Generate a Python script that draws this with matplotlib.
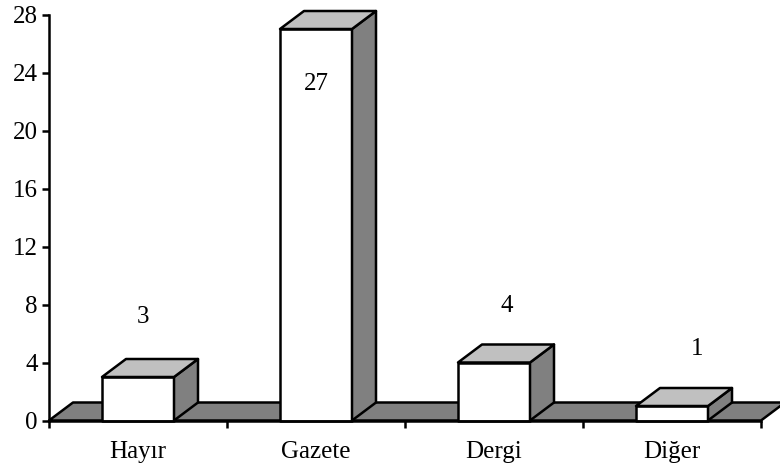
import matplotlib
matplotlib.use('Agg')
import matplotlib.pyplot as plt

categories = ["Hayır", "Gazete", "Dergi", "Diğer"]
values = [3, 27, 4, 1]
y_ticks = [0, 4, 8, 12, 16, 20, 24, 28]

# label offsets from the bar top centre, in pixels
label_dx = [5, 0, 13, 25]
label_dy = [60, -55, 57, 57]

W, H = 780, 468
LEFT, RIGHT, TOP, BOTTOM = 49, 761, 14.5, 420.5
bar_w = 72 / 178
depth_x = 24 / 178
depth_y = 18 / 14.5
lw = 1.8
font_size = 18

plt.rcParams['font.family'] = ['Liberation Serif']
fig = plt.figure(figsize=(W / 100, H / 100), dpi=100)
ax = fig.add_axes([LEFT / W, 1 - BOTTOM / H, (RIGHT - LEFT) / W, (BOTTOM - TOP) / H])


def face(xs, ys, color, z):
    ax.fill(xs, ys, facecolor=color, edgecolor='black', linewidth=lw,
            joinstyle='round', clip_on=False, zorder=z)


# floor
n = len(categories)
face([0, n, n + depth_x, depth_x], [0, 0, depth_y, depth_y], '#808080', 1)

# bars
for i, v in enumerate(values):
    x0 = i + (1 - bar_w) / 2
    x1 = x0 + bar_w
    face([x0, x1, x1, x0], [0, 0, v, v], 'white', 3)
    face([x1, x1 + depth_x, x1 + depth_x, x1], [0, depth_y, v + depth_y, v], '#808080', 3)
    face([x0, x1, x1 + depth_x, x0 + depth_x], [v, v, v + depth_y, v + depth_y], '#C0C0C0', 3)
    ax.annotate(str(v), (i + 0.5, v), xytext=(label_dx[i] * 0.72, label_dy[i] * 0.72),
                textcoords='offset points', ha='center', va='center', fontsize=font_size, zorder=5)

ax.set_xlim(0, n)
ax.set_ylim(0, 28)
ax.set_yticks(y_ticks)
ax.set_xticks(range(n + 1))
ax.set_xticklabels([])
ax.set_xticks([i + 0.5 for i in range(n)], labels=categories, minor=True)
ax.tick_params(axis='x', which='minor', length=0, labelsize=font_size, pad=15)
ax.tick_params(axis='x', which='major', length=5, width=lw)
ax.tick_params(axis='y', length=5, width=lw, labelsize=font_size, pad=3)
ax.spines['top'].set_visible(False)
ax.spines['right'].set_visible(False)
ax.spines['left'].set_linewidth(lw)
ax.spines['bottom'].set_linewidth(lw)
ax.spines['left'].set_zorder(6)
ax.spines['bottom'].set_zorder(6)
ax.patch.set_visible(False)

plt.savefig('out.png', dpi=100)
